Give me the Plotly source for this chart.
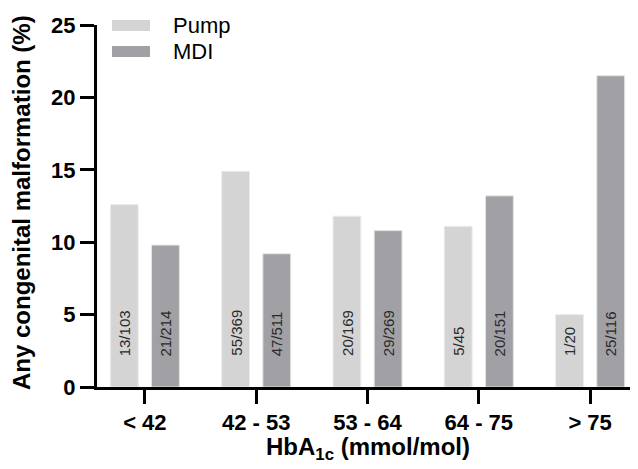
import plotly.graph_objects as go

categories = ["< 42", "42 - 53", "53 - 64", "64 - 75", "> 75"]
pump_values = [12.6, 14.9, 11.8, 11.1, 5.0]
mdi_values = [9.8, 9.2, 10.8, 13.2, 21.5]
pump_counts = ["13/103", "55/369", "20/169", "5/45", "1/20"]
mdi_counts = ["21/214", "47/511", "29/269", "20/151", "25/116"]
y_ticks = [0, 5, 10, 15, 20, 25]

PUMP_COLOR = "#d4d4d4"
MDI_COLOR = "#a1a0a5"
FONT = "Arial, Liberation Sans, sans-serif"

# page offset (body margin) compensation
OFF = 8
W, H = 638 - OFF, 469 - OFF
PLOT_L, PLOT_T, PLOT_W, PLOT_H = 97, 25, 541, 362  # in screenshot pixels


def px_x(p):
    return (p - PLOT_L) / PLOT_W


def px_y(p):
    return (PLOT_T + PLOT_H - p) / PLOT_H


fig = go.Figure()
fig.add_trace(go.Bar(x=list(range(len(categories))), y=pump_values, name="Pump",
                     marker=dict(color=PUMP_COLOR, line=dict(color="#ececec", width=1))))
fig.add_trace(go.Bar(x=list(range(len(categories))), y=mdi_values, name="MDI",
                     marker=dict(color=MDI_COLOR, line=dict(color="#e4e4e4", width=1))))

slot = 0.37
annotations = []
for i in range(len(categories)):
    for off, txt in ((-slot / 2, pump_counts[i]), (slot / 2, mdi_counts[i])):
        annotations.append(dict(x=i + off, y=2.0, xref="x", yref="y", text=txt,
                                textangle=-90, showarrow=False, yanchor="bottom",
                                xanchor="center",
                                font=dict(family=FONT, size=15, color="#2a2a2a")))

# axis titles
annotations.append(dict(x=0.5, y=px_y(448), xref="paper", yref="paper",
                        text="<b>HbA<sub>1c</sub> (mmol/mol)</b>", showarrow=False,
                        xanchor="center", yanchor="middle",
                        font=dict(family=FONT, size=24, color="black")))
annotations.append(dict(x=px_x(21), y=px_y(203), xref="paper", yref="paper",
                        text="<b>Any congenital malformation (%)</b>", showarrow=False,
                        textangle=-90, xanchor="center", yanchor="middle",
                        font=dict(family=FONT, size=24, color="black")))

# legend (drawn manually)
legend_items = [("Pump", PUMP_COLOR, 25.5), ("MDI", MDI_COLOR, 51.5)]
shapes = []
for name, col, yc in legend_items:
    shapes.append(dict(type="rect", xref="paper", yref="paper",
                       x0=px_x(112), x1=px_x(150),
                       y0=px_y(yc + 5.5), y1=px_y(yc - 5.5),
                       fillcolor=col, line=dict(width=0)))
    annotations.append(dict(x=px_x(171), y=px_y(yc), xref="paper", yref="paper",
                            text=name, showarrow=False, xanchor="left", yanchor="middle",
                            font=dict(family=FONT, size=22, color="black")))

fig.update_layout(
    width=W, height=H,
    margin=dict(l=PLOT_L - OFF, r=0, t=PLOT_T - OFF, b=469 - PLOT_T - PLOT_H),
    paper_bgcolor="white", plot_bgcolor="white",
    barmode="group", bargap=0.26, bargroupgap=0.324,
    showlegend=False,
    font=dict(family=FONT, color="black"),
    annotations=annotations, shapes=shapes,
    xaxis=dict(range=[-0.43, 4.43], tickmode="array",
               tickvals=list(range(len(categories))),
               ticktext=[f"<b>{c}</b>" for c in categories],
               ticks="outside", ticklen=14, tickwidth=3, tickcolor="black",
               showline=True, linewidth=3, linecolor="black",
               showgrid=False, zeroline=False,
               tickfont=dict(family=FONT, size=22, color="black")),
    yaxis=dict(range=[0, 25], tickmode="array", tickvals=y_ticks,
               ticktext=[f"<b>{v}</b>" for v in y_ticks],
               ticks="outside", ticklen=14, tickwidth=3, tickcolor="black",
               showline=True, linewidth=3, linecolor="black",
               showgrid=False, zeroline=False,
               tickfont=dict(family=FONT, size=22, color="black")),
)

fig.write_html("out.html")
